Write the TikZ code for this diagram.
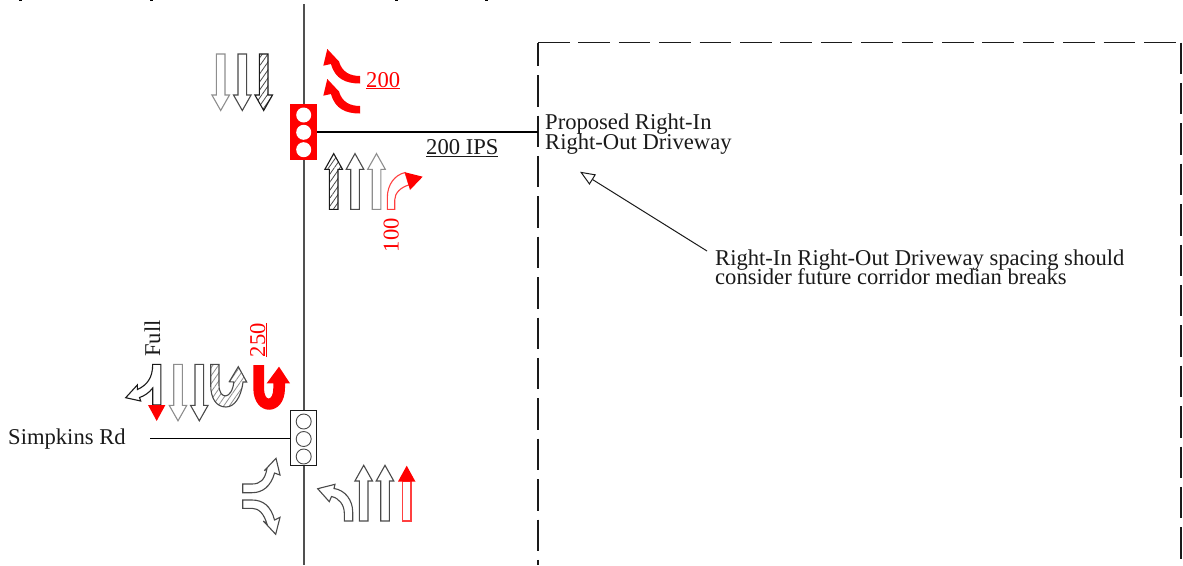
\documentclass[tikz,border=0pt]{standalone}
\usepackage{fontspec}
\setmainfont{Liberation Serif}
\usetikzlibrary{arrows.meta,patterns.meta}
\definecolor{roadgray}{HTML}{505050}
\definecolor{fadegray}{HTML}{8E8E8E}
\definecolor{midgray}{HTML}{4A4A4A}
\definecolor{inkdark}{HTML}{1A1A1A}
\definecolor{sigred}{HTML}{FF0000}
\tikzset{
  road/.style={draw=roadgray,line width=1.8pt},
  thinroad/.style={draw=black,line width=1.2pt},
  lane/.style={draw=inkdark,line width=1.1pt,fill=white,line join=miter},
  lanemid/.style={draw=midgray,line width=1.1pt,fill=white,line join=miter},
  lanefade/.style={draw=fadegray,line width=1.1pt,fill=white,line join=miter},
  lanered/.style={draw=sigred!75,line width=1.1pt,fill=white,line join=miter},
  hatched/.style={draw=inkdark,line width=1.1pt,line join=miter,
    pattern={Lines[angle=55,distance=4.6pt,line width=.8pt]},pattern color=midgray},
  hatchedfade/.style={draw=midgray,line width=1.1pt,line join=miter,
    pattern={Lines[angle=55,distance=4.6pt,line width=.8pt]},pattern color=fadegray},
  lbl/.style={font=\fontsize{22.6}{20.5}\selectfont,text=inkdark,inner sep=0pt,align=left},
  redlbl/.style={lbl,text=sigred},
  sigbox/.style={rectangle,minimum width=26.4pt,minimum height=55.5pt,inner sep=0pt},
  lamp/.style={circle,minimum size=15pt,inner sep=0pt},
  boundary/.style={draw=inkdark,line width=1.2pt,dash pattern=on 31.5pt off 8.9pt},
}
\newcommand{\laneDown}[3][lane]{%
  \path[#1] ({#2-4.3},#3) -- ({#2+4.3},#3) -- ({#2+4.3},{#3+41}) -- ({#2+8.8},{#3+41})
    -- (#2,{#3+56.5}) -- ({#2-8.8},{#3+41}) -- ({#2-4.3},{#3+41}) -- cycle;}
\newcommand{\laneUp}[3][lane]{%
  \path[#1] ({#2-4.3},#3) -- ({#2+4.3},#3) -- ({#2+4.3},{#3-40}) -- ({#2+8.8},{#3-40})
    -- (#2,{#3-55.7}) -- ({#2-8.8},{#3-40}) -- ({#2-4.3},{#3-40}) -- cycle;}
\newcommand{\redTurn}[1]{%
  \fill[sigred] (360,{76+#1}) .. controls (350,{76+#1}) and (342,{72+#1}) .. (339,{61.5+#1})
    -- (327.3,{49+#1}) -- (323.3,{65.7+#1}) -- (331,{64+#1})
    .. controls (335,{79+#1}) and (346,{83.5+#1}) .. (360,{83.5+#1}) -- cycle;}
\begin{document}
\begin{tikzpicture}[x=1pt,y=-1pt]
\useasboundingbox (0,0) rectangle (1183,565);
\foreach \tx in {19,150,395,485} \fill[black] (\tx,0) rectangle ({\tx+3},1);

\coordinate (bNW) at (538,42.5);
\coordinate (bNE) at (1181,42.5);
\coordinate (bSW) at (538,565);
\coordinate (bSE) at (1181,565);
\draw[boundary] (bNW) -- (bNE);
\draw[boundary,dash phase=7.8pt] (bNW) -- (bSW);
\draw[boundary] (bNE) -- (bSE);

\coordinate (roadN) at (303.8,4);
\coordinate (roadS) at (303.8,565);
\draw[road] (roadN) -- (roadS);

\node[sigbox,fill=sigred] (sigN) at (303.5,131.8) {};
\node[sigbox,draw=inkdark,fill=white,line width=1pt] (sigS) at (303.5,438.2) {};
\node[lamp,fill=white] (n1) at (303.7,115) {};
\node[lamp,fill=white] (n2) at (303.7,132.3) {};
\node[lamp,fill=white] (n3) at (303.7,149.7) {};
\node[lamp,draw=midgray,line width=.9pt] (s1) at (303.7,421.5) {};
\node[lamp,draw=midgray,line width=.9pt] (s2) at (303.7,439) {};
\node[lamp,draw=midgray,line width=.9pt] (s3) at (303.7,456.5) {};

\coordinate (driveE) at (538,132);
\coordinate (simpW) at (150,438.3);
\draw[thinroad] (sigN.east |- driveE) -- (driveE);
\draw[thinroad] (simpW) -- (sigS.west |- simpW);

\laneDown[lanefade]{220.7}{54}
\laneDown[lanemid]{242.3}{54}
\laneDown[hatched]{263.7}{54}
\redTurn{0}
\redTurn{30}
\laneUp[hatched]{333.7}{209.3}
\laneUp[lanemid]{355}{209.3}
\laneUp[lanefade]{376.5}{209.3}
\path[lanered] (387.3,209.3) -- (394.7,209.3) -- (394.7,200)
  .. controls (394.7,193) and (401,187) .. (409,185) -- (405,172.5)
  .. controls (395,175) and (387.3,184) .. (387.3,198) -- cycle;
\fill[sigred] (422.7,176.7) -- (405,172.3) -- (410,190) -- cycle;

\path[lane] (125.7,397.7) -- (137.3,385) -- (137.5,389.5)
  .. controls (147,385) and (152.7,378) .. (152.7,364.3) -- (160.9,364.3) -- (160.9,405) -- (152.7,405) -- (152.7,388)
  .. controls (149,393) and (144,396) .. (139.5,397.5) -- (140.7,401) -- cycle;
\fill[sigred] (148,405) -- (165.4,405) -- (156.7,421) -- cycle;
\laneDown[lanefade]{178}{364.3}
\laneDown[lanemid]{199.3}{364.3}
\path[hatchedfade] (210.7,364.3) -- (219,364.3) -- (219,385)
  .. controls (219,400) and (232,400) .. (233.8,382) -- (229.3,381.7) -- (238.3,366.7) -- (246.7,382) -- (243,382)
  .. controls (241,398) and (234,407) .. (226,407)
  .. controls (216,407) and (210.7,398) .. (210.7,385) -- cycle;
\fill[sigred] (253.3,365) -- (264,365) -- (264,388)
  .. controls (264,402) and (273.3,402) .. (273.3,388) -- (273.3,383.3) -- (266.7,383.3) -- (279,366.7) -- (290,383.3) -- (285,383.3) -- (285,388)
  .. controls (285,417) and (253.3,417) .. (253.3,388) -- cycle;

\path[lanemid] (242.7,484) -- (252,484)
  .. controls (260,484) and (265,480) .. (267,468.5) -- (264.3,470.7) -- (276,458.3) -- (280,475) -- (274.5,473)
  .. controls (271,486) and (263,492.7) .. (252,492.7) -- (242.7,492.7) -- cycle;
\path[lanemid] (242.7,500) -- (252,500)
  .. controls (263,500) and (271,506) .. (274.5,520) -- (280,517.3) -- (275.7,534.3) -- (263.3,521) -- (267,524)
  .. controls (264,514) and (259,508.3) .. (252,508.3) -- (242.7,508.3) -- cycle;

\path[lanemid] (344.3,521) -- (352.7,521) -- (352.7,512)
  .. controls (352.7,500) and (345,490) .. (334,488.5) -- (335,484.3) -- (317.7,488.7) -- (329.3,501.7) -- (331.5,496.5)
  .. controls (339,498) and (344.3,505) .. (344.3,513) -- cycle;
\laneUp[lanemid]{363.7}{521}
\laneUp[lanemid]{385}{521}
\path[lanered] (402.5,481.7) rectangle (411,521);
\fill[sigred] (397.9,481.7) -- (415.5,481.7) -- (406.7,465.7) -- cycle;

\node[redlbl,anchor=base west] (t200) at (366,87) {\underline{200}};
\node[lbl,anchor=base west] (tips) at (426,154.5) {\underline{200 IPS}};
\node[lbl,anchor=north west] (tprop) at (545,114) {Proposed Right-In\\[-2pt]Right-Out Driveway};
\node[lbl,anchor=north west] (tnote) at (715,249.5) {Right-In Right-Out Driveway spacing should\\[-3pt]consider future corridor median breaks};
\node[lbl,anchor=base west] (tsimp) at (8,444) {Simpkins Rd};
\node[redlbl,rotate=90,anchor=base east] (t100) at (398.5,218) {100};
\node[lbl,rotate=90,anchor=base east] (tfull) at (160,320) {Full};
\node[redlbl,rotate=90,anchor=base east] (t250) at (265,323) {\underline{250}};

\coordinate (leadS) at (707,251);
\coordinate (leadT) at (580,171.7);
\draw[draw=inkdark,line width=1pt,-{Triangle[open,length=15pt,width=12pt,fill=white]}] (leadS) -- (leadT);
\end{tikzpicture}
\end{document}
